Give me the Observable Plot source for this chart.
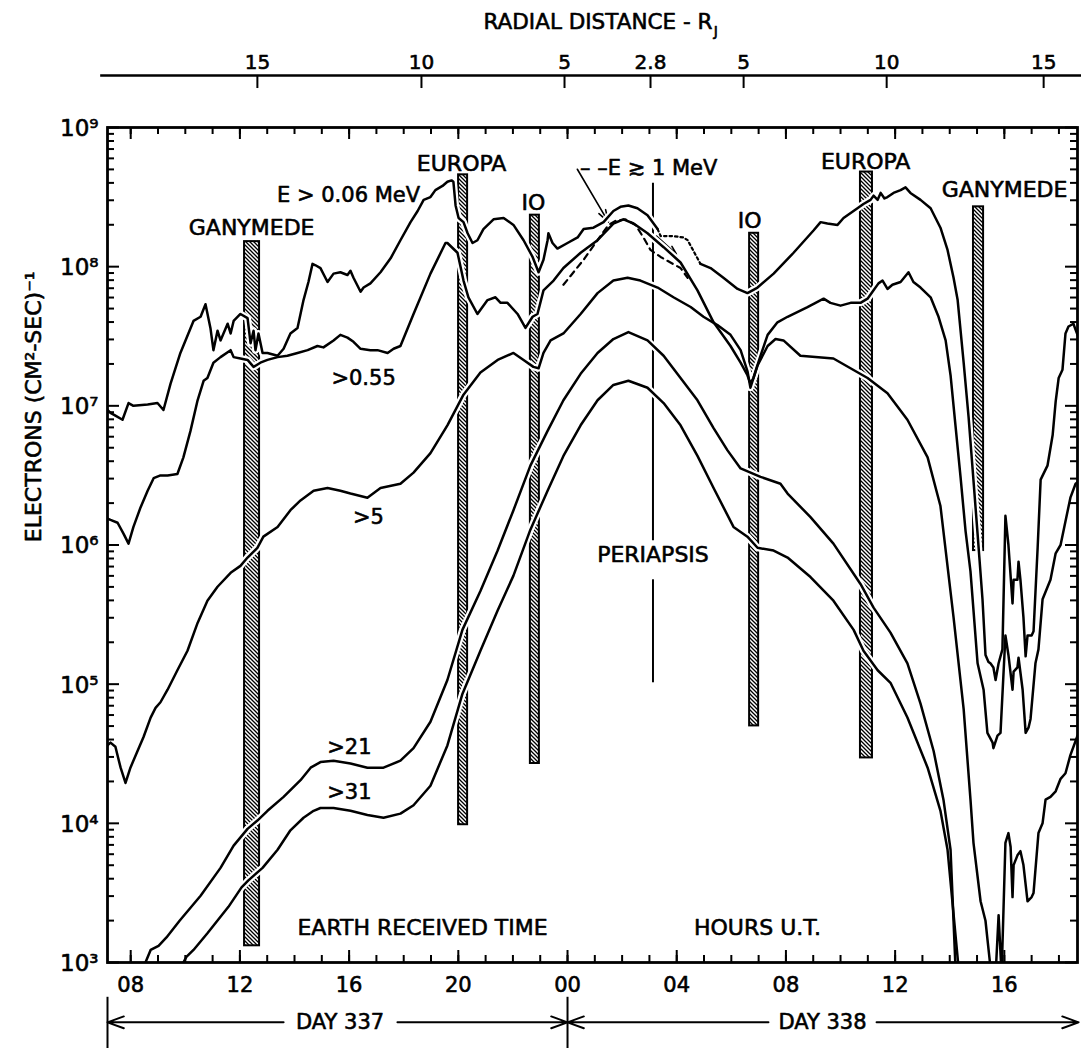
<!DOCTYPE html>
<html><head><meta charset="utf-8">
<script src="https://cdn.jsdelivr.net/npm/d3@7"></script>
<script src="https://cdn.jsdelivr.net/npm/@observablehq/plot@0.6"></script>
<style>
html,body{margin:0;padding:0;background:#fff;}
#chart svg{display:block;}
</style></head>
<body><div id="chart"></div>
<script>
// ---- DATA: [hours after 00 UT day 337, log10 electron flux (cm^2-sec)^-1] ----
const e006Inbound = [[7.15,6.97],[7.26,6.95],[7.44,6.93],[7.70,6.90],[7.92,7.02],[8.10,7.00],[8.62,7.01],[8.98,7.02],[9.20,6.97],[9.46,7.16],[9.82,7.38],[10.30,7.61],[10.56,7.64],[10.74,7.73],[10.92,7.56],[11.03,7.40],[11.18,7.54],[11.29,7.47],[11.55,7.59],[11.66,7.52],[11.77,7.61],[12.02,7.66],[12.28,7.63],[12.39,7.45],[12.50,7.54],[12.57,7.40],[12.68,7.52],[12.83,7.38],[13.01,7.38],[13.38,7.36],[13.60,7.41],[13.85,7.52],[14.11,7.56],[14.33,7.76],[14.51,7.89],[14.66,8.02],[14.77,8.01],[14.95,7.99],[15.21,7.89],[15.43,7.95],[15.68,7.96],[15.94,7.94],[16.05,7.97],[16.16,7.92],[16.42,7.82],[16.53,7.85],[16.78,7.88],[17.15,7.96],[17.52,8.06],[17.88,8.19],[18.25,8.32],[18.51,8.40],[18.73,8.48],[18.98,8.50],[19.16,8.55],[19.42,8.58],[19.60,8.61],[19.75,8.62],[19.82,8.61],[19.90,8.44],[20.01,8.35],[20.19,8.32],[20.34,8.24],[20.52,8.17],[20.70,8.19],[20.92,8.27],[21.29,8.34],[21.66,8.35],[22.02,8.30],[22.39,8.19],[22.72,8.07],[22.94,7.96],[23.12,8.05],[23.27,8.19],[23.30,8.24],[23.45,8.17],[23.63,8.13],[24.00,8.17],[24.37,8.21],[24.59,8.27],[24.95,8.28],[25.32,8.32],[25.68,8.40],[25.94,8.43],[26.23,8.44],[26.56,8.42],[26.93,8.37],[27.30,8.27]];
const e006Gap = [[27.30,8.27],[27.41,8.22],[27.85,8.22],[28.25,8.21],[28.40,8.19],[28.76,8.06],[28.87,8.02]];
const e006Outbound = [[28.87,8.02],[29.24,7.99],[29.71,7.92],[30.23,7.84],[30.59,7.81],[30.96,7.85],[31.55,7.95],[32.28,8.10],[33.01,8.26],[33.27,8.32],[33.52,8.31],[33.89,8.30],[34.11,8.35],[34.62,8.42],[34.84,8.45],[35.10,8.48],[35.21,8.51],[35.36,8.48],[35.47,8.53],[35.61,8.49],[35.72,8.50],[35.94,8.53],[36.20,8.55],[36.38,8.57],[36.56,8.53],[36.93,8.48],[37.30,8.42],[37.66,8.28],[37.92,8.12],[38.14,7.92],[38.29,7.76],[38.51,7.31],[38.69,6.92],[38.84,6.54],[39.02,6.08],[39.20,5.61],[39.31,5.21],[39.42,5.16],[39.49,5.15],[39.60,5.12],[39.68,5.03],[39.79,5.15],[39.93,5.25],[40.04,6.21],[40.15,6.00],[40.30,5.58],[40.34,5.75],[40.48,5.75],[40.52,5.88],[40.59,5.75],[40.70,5.48],[40.78,5.20],[40.85,5.35],[41.00,5.35],[41.07,5.38],[41.22,5.98],[41.33,6.47],[41.58,6.57],[41.77,6.79],[41.88,7.03],[41.99,7.20],[42.13,7.26],[42.24,7.52],[42.35,7.57],[42.53,7.59],[42.68,7.51]];
const e055 = [[7.15,6.19],[7.26,6.18],[7.52,6.16],[7.74,6.08],[7.92,6.01],[8.10,6.13],[8.36,6.27],[8.62,6.39],[8.84,6.48],[9.09,6.50],[9.35,6.50],[9.71,6.51],[9.93,6.63],[10.19,6.82],[10.45,7.04],[10.67,7.18],[10.81,7.20],[11.03,7.31],[11.29,7.35],[11.66,7.40],[11.77,7.35],[12.02,7.34],[12.28,7.33],[12.50,7.28],[12.75,7.31],[13.01,7.33],[13.38,7.35],[13.74,7.36],[14.11,7.38],[14.48,7.40],[14.84,7.43],[15.06,7.42],[15.43,7.47],[15.68,7.51],[15.94,7.49],[16.16,7.46],[16.42,7.41],[16.78,7.40],[17.04,7.40],[17.41,7.38],[17.63,7.41],[17.88,7.43],[18.36,7.66],[18.98,7.95],[19.53,8.17],[19.60,8.17],[19.97,8.10],[20.19,7.90],[20.37,7.78],[20.70,7.66],[21.07,7.76],[21.36,7.78],[21.55,7.74],[21.80,7.74],[22.17,7.66],[22.46,7.56],[22.72,7.64],[22.90,7.66],[23.12,7.83],[23.49,7.90],[23.85,7.99],[24.48,8.10],[25.10,8.19],[25.68,8.31],[26.05,8.34],[26.42,8.31],[26.93,8.24],[27.52,8.14],[28.14,8.03],[28.76,7.83],[29.35,7.60],[29.97,7.43],[30.34,7.31],[30.59,7.22],[30.70,7.16],[30.81,7.20],[31.07,7.36],[31.33,7.51],[31.69,7.60],[32.06,7.64],[32.79,7.71],[33.38,7.77],[33.63,7.74],[34.00,7.72],[34.37,7.74],[34.73,7.74],[34.99,7.77],[35.21,7.83],[35.39,7.88],[35.54,7.90],[35.72,7.84],[35.90,7.87],[36.20,7.89],[36.49,7.96],[36.67,7.89],[36.93,7.85],[37.30,7.78],[37.59,7.64],[37.85,7.47],[38.03,7.22],[38.21,6.86],[38.40,6.48],[38.58,6.10],[38.76,5.81],[39.02,5.15],[39.24,4.96],[39.38,4.65],[39.57,4.58],[39.60,4.54],[39.75,4.63],[39.86,4.65],[40.04,5.35],[40.15,5.21],[40.30,4.96],[40.34,5.09],[40.48,5.12],[40.52,5.19],[40.67,4.96],[40.78,4.65],[40.89,4.69],[40.96,4.75],[41.14,5.15],[41.25,5.25],[41.40,5.61],[41.69,5.75],[41.88,5.94],[42.06,6.00],[42.24,6.17],[42.42,6.34],[42.61,6.44],[42.68,6.45]];
const e5 = [[7.15,4.56],[7.26,4.58],[7.44,4.55],[7.63,4.40],[7.81,4.29],[7.99,4.40],[8.25,4.52],[8.47,4.62],[8.73,4.76],[8.91,4.83],[9.09,4.87],[9.35,4.96],[9.71,5.10],[10.08,5.24],[10.45,5.44],[10.81,5.60],[11.18,5.70],[11.66,5.80],[12.02,5.85],[12.28,5.91],[12.64,5.98],[12.86,6.06],[13.38,6.13],[13.85,6.25],[14.22,6.32],[14.70,6.39],[15.21,6.41],[15.68,6.39],[16.05,6.37],[16.67,6.34],[17.15,6.41],[17.88,6.44],[18.36,6.52],[18.98,6.66],[19.60,6.86],[20.19,7.08],[20.81,7.24],[21.44,7.33],[22.02,7.38],[22.39,7.33],[22.75,7.28],[22.94,7.27],[23.12,7.38],[23.38,7.47],[23.85,7.52],[24.48,7.66],[25.10,7.81],[25.68,7.90],[26.20,7.92],[26.67,7.90],[27.30,7.85],[27.88,7.78],[28.51,7.71],[28.98,7.64],[29.49,7.58],[29.97,7.51],[30.34,7.40],[30.59,7.25],[30.70,7.13],[30.96,7.29],[31.33,7.43],[31.62,7.48],[31.91,7.47],[32.53,7.36],[33.74,7.34],[34.99,7.20],[35.72,7.09],[36.45,6.90],[37.19,6.63],[37.66,6.28],[38.14,5.48],[38.51,4.82],[38.76,4.17],[38.87,3.86],[39.13,3.44],[39.31,3.30],[39.38,3.17],[39.49,2.97],[39.68,2.91],[39.79,3.34],[39.90,2.91],[40.04,3.86],[40.15,3.93],[40.23,3.83],[40.30,3.47],[40.34,3.70],[40.48,3.77],[40.59,3.80],[40.70,3.70],[40.85,3.44],[41.00,3.47],[41.07,3.50],[41.25,3.93],[41.40,4.00],[41.51,4.17],[41.69,4.19],[41.88,4.23],[42.06,4.32],[42.24,4.36],[42.42,4.49],[42.68,4.63]];
const e21 = [[8.54,3.00],[8.73,3.09],[9.02,3.12],[9.31,3.18],[9.79,3.30],[10.56,3.48],[11.29,3.68],[11.77,3.84],[12.28,3.96],[12.64,4.02],[13.01,4.09],[13.60,4.19],[14.22,4.31],[14.59,4.40],[14.95,4.44],[15.43,4.45],[16.05,4.43],[16.67,4.40],[17.26,4.40],[17.88,4.45],[18.36,4.54],[18.98,4.73],[19.60,5.03],[20.15,5.39],[20.81,5.67],[21.44,5.96],[22.02,6.25],[22.64,6.57],[23.27,6.82],[23.85,7.04],[24.48,7.23],[25.10,7.38],[25.68,7.48],[26.23,7.53],[26.93,7.47],[27.52,7.36],[28.14,7.20],[28.76,7.04],[29.35,6.84],[29.86,6.68],[30.34,6.55],[31.07,6.49],[31.80,6.44],[32.06,6.37],[32.90,6.20],[33.74,6.01],[34.73,5.72],[35.21,5.55],[35.83,5.37],[36.45,5.15],[36.93,4.86],[37.41,4.52],[37.77,4.17],[38.03,3.81],[38.21,2.97]];
const e31 = [[9.93,3.00],[10.04,3.04],[10.30,3.09],[10.81,3.21],[11.58,3.40],[12.06,3.54],[12.31,3.59],[12.83,3.68],[13.38,3.81],[13.85,3.95],[14.33,4.04],[14.70,4.09],[14.95,4.11],[15.43,4.11],[16.05,4.09],[16.67,4.06],[17.26,4.04],[17.88,4.07],[18.36,4.13],[18.98,4.27],[19.60,4.56],[20.15,4.93],[20.81,5.24],[21.44,5.53],[22.02,5.78],[22.64,6.11],[23.27,6.39],[23.85,6.64],[24.48,6.86],[25.10,7.04],[25.68,7.15],[26.23,7.18],[26.93,7.13],[27.52,7.02],[28.14,6.86],[28.76,6.64],[29.35,6.41],[30.08,6.13],[30.59,6.06],[30.96,5.98],[31.55,5.96],[32.06,5.91],[32.90,5.77],[33.74,5.60],[34.48,5.39],[34.84,5.24],[35.36,5.10],[35.83,5.01],[36.45,4.76],[37.19,4.40],[37.66,4.09],[37.92,3.81],[38.32,2.97]];
const e1Dashed = [[23.85,7.87],[24.22,7.96],[24.59,8.05],[24.95,8.15],[25.21,8.22],[25.50,8.30],[25.76,8.33],[26.12,8.34],[26.49,8.30],[26.78,8.21],[27.04,8.12],[27.41,8.07],[27.77,8.03],[28.14,7.99],[28.40,7.92]];

// moon crossings: [start hour, end hour, log10 top, log10 bottom]
const moonBars = [[12.17,12.72,8.18,3.12],[20.01,20.34,8.66,3.99],[22.64,22.97,8.37,4.43],[30.67,31.00,8.24,4.70],[34.73,35.17,8.68,4.47],[38.87,39.24,8.43,5.96]];
const moonNames = ["GANYMEDE","EUROPA","IO","IO","EUROPA","GANYMEDE"];
const moonLabelPos = [[12.43,8.28],[20.12,8.74],[22.75,8.46],[30.67,8.33],[34.92,8.75],[40.01,8.55]];

const channelNames = ["E > 0.06 MeV", ">0.55", ">5", ">21", ">31"];
const channelLabelPos = [[15.98,8.51],[16.53,7.20],[16.71,6.20],[16.01,4.55],[16.01,4.22]];

const periapsisHour = 27.13;
const hourTicks = [8,12,16,20,24,28,32,36,40];
const hourLabels = ["08","12","16","20","00","04","08","12","16"];
const decades = [3,4,5,6,7,8,9];
const decadeLabels = ["10³","10⁴","10⁵","10⁶","10⁷","10⁸","10⁹"];
const radialHours = [12.64,18.65,23.89,27.04,30.45,35.69,41.44];
const radialLabels = ["15","10","5","2.8","5","10","15"];

// ---- build ----
const X0 = 7.15, X1 = 42.68;
const P = v => 10 ** v;
const rows = (id, arr) => arr.map(([t, lg]) => ({id, t, v: P(lg)}));
const solid = [
  ...rows("a", e006Inbound), ...rows("b", e006Outbound), ...rows("c", e055),
  ...rows("d", e5), ...rows("e", e21), ...rows("f", e31)
];
const gapRows = rows("g", e006Gap);
const dashRows = rows("h", e1Dashed);
const bars = moonBars.map(([t0, t1, hi, lo]) => ({t0, t1, hi: P(hi), lo: P(lo)}));
const moonLabels = moonNames.map((n, i) => ({n, t: moonLabelPos[i][0], v: P(moonLabelPos[i][1])}));
const chanLabels = channelNames.map((n, i) => ({n, t: channelLabelPos[i][0], v: P(channelLabelPos[i][1])}));

const allHours = d3.range(8, 43);
const minorVals = [];
for (const d of [3,4,5,6,7,8]) for (let m = 2; m <= 9; m++) minorVals.push(m * 10 ** d);
const decadeVals = decades.map(P);

const FONT = "DejaVu Sans, Liberation Sans, sans-serif";
const hLen = 7 / 27.3, hLong = 12 / 27.3;   // tick lengths in hours
const yLen = 7 / 139.2, yLong = 12 / 139.2; // tick lengths in decades
const T = {fill: "black", stroke: "black", strokeWidth: 0.6}; // heavier lettering

const chart = Plot.plot({
  width: 1081, height: 1048,
  marginTop: 127, marginBottom: 86, marginLeft: 107, marginRight: 4,
  x: {domain: [X0, X1], axis: null},
  y: {type: "log", domain: [1e3, 1e9], axis: null},
  style: {fontFamily: FONT, background: "white", color: "black", overflow: "visible"},
  marks: [
    // hatched moon bars
    Plot.rect(bars, {x1: "t0", x2: "t1", y1: "lo", y2: "hi", fill: "url(#hatch)", stroke: "black", strokeWidth: 2}),
    // periapsis marker
    Plot.ruleX([{a: 8.60, b: 6.03}, {a: 5.75, b: 5.01}], {x: () => periapsisHour, y1: d => P(d.a), y2: d => P(d.b), stroke: "black", strokeWidth: 2}),
    // arrows from E>=1 MeV label
    Plot.arrow([{x1: 24.36, y1: 8.70, x2: 25.50, y2: 8.32}, {x1: 27.26, y1: 8.22, x2: 27.99, y2: 8.09}],
      {x1: "x1", x2: "x2", y1: d => P(d.y1), y2: d => P(d.y2), stroke: "black", strokeWidth: 1.6, headLength: 12, headAngle: 35}),
    // white halos (break bars and rules where curves pass)
    Plot.line(solid, {x: "t", y: "v", z: "id", stroke: "white", strokeWidth: 7, clip: true}),
    // curves
    Plot.line(solid, {x: "t", y: "v", z: "id", stroke: "black", strokeWidth: 2.5, strokeLinejoin: "round", clip: true}),
    Plot.line(gapRows, {x: "t", y: "v", stroke: "black", strokeWidth: 2.2, strokeDasharray: "2.5,3", clip: true}),
    Plot.line(dashRows, {x: "t", y: "v", stroke: "black", strokeWidth: 2.2, strokeDasharray: "6,5", clip: true}),
    // frame & ticks
    Plot.frame({stroke: "black", strokeWidth: 2.8}),
    Plot.ruleY(minorVals, {x1: X0, x2: X0 + hLen, strokeWidth: 2}),
    Plot.ruleY(decadeVals, {x1: X0, x2: X0 + hLong, strokeWidth: 2}),
    Plot.ruleY(minorVals, {x1: X1 - hLen, x2: X1, strokeWidth: 2}),
    Plot.ruleY(decadeVals, {x1: X1 - hLong, x2: X1, strokeWidth: 2}),
    Plot.ruleX(allHours, {y1: 1e3, y2: P(3 + yLen), strokeWidth: 2}),
    Plot.ruleX(hourTicks, {y1: 1e3, y2: P(3 + yLong), strokeWidth: 2}),
    Plot.ruleX(allHours, {y1: 1e9, y2: P(9 - yLen), strokeWidth: 2}),
    Plot.ruleX(hourTicks, {y1: 1e9, y2: P(9 - yLong), strokeWidth: 2}),
    // y tick labels
    Plot.text(decades, {x: X0, y: d => P(d), text: (d, i) => decadeLabels[i], textAnchor: "end", dx: -9, dy: 1, fontSize: 23, ...T}),
    // x tick labels
    Plot.text(hourTicks, {x: d => d, y: P(2.835), text: (d, i) => hourLabels[i], fontSize: 21, ...T}),
    // radial distance axis (top)
    Plot.ruleY([P(9.374)], {x1: 6.9, x2: 43.0, strokeWidth: 2.4}),
    Plot.ruleX(radialHours, {y1: P(9.374), y2: P(9.28), strokeWidth: 2}),
    Plot.text(radialHours, {x: d => d, y: P(9.467), text: (d, i) => radialLabels[i], fontSize: 20, ...T}),
    Plot.text(["RADIAL DISTANCE - R"], {x: 29.31, y: P(9.754), textAnchor: "end", fontSize: 21.5, ...T}),
    Plot.text(["J"], {x: 29.36, y: P(9.69), textAnchor: "start", fontSize: 14, ...T}),
    // day arrows (bottom)
    Plot.ruleX([X0, 24], {y1: P(2.75), y2: P(2.38), strokeWidth: 2}),
    Plot.arrow([{a: 13.60, b: X0}, {a: 17.77, b: 24}, {a: 31.36, b: 24}, {a: 35.32, b: 42.72}],
      {x1: "a", x2: "b", y1: P(2.57), y2: P(2.57), stroke: "black", strokeWidth: 2, headLength: 13, headAngle: 40}),
    Plot.text(["DAY 337", "DAY 338"], {x: (d, i) => [15.67, 33.34][i], y: P(2.57), fontSize: 21, ...T}),
    // annotations
    Plot.text(moonLabels, {x: "t", y: "v", text: "n", fontSize: 22, ...T}),
    Plot.text(chanLabels, {x: "t", y: "v", text: "n", fontSize: 21, ...T}),
    Plot.text(["– –E ≳ 1 MeV"], {x: 24.46, y: P(8.706), textAnchor: "start", fontSize: 21, ...T}),
    Plot.text(["PERIAPSIS"], {x: periapsisHour, y: P(5.93), fontSize: 22, ...T}),
    Plot.text(["EARTH RECEIVED TIME"], {x: 18.69, y: P(3.25), fontSize: 22, ...T}),
    Plot.text(["HOURS U.T."], {x: 30.96, y: P(3.25), fontSize: 22, ...T}),
    // y-axis title
    Plot.text(["ELECTRONS (CM²-SEC)⁻¹"], {frameAnchor: "left", dx: -74, y: P(6.02), rotate: -90, fontSize: 22, ...T})
  ]
});

const ns = "http://www.w3.org/2000/svg";
const defs = document.createElementNS(ns, "defs");
defs.innerHTML = '<pattern id="hatch" patternUnits="userSpaceOnUse" width="4" height="4"><rect width="4" height="4" fill="white"/><path d="M-1,-1 L5,5 M-1,3 L1,5 M3,-1 L5,1" stroke="black" stroke-width="1.3"/></pattern>';
chart.insertBefore(defs, chart.firstChild);
document.getElementById("chart").appendChild(chart);
</script>
</body></html>
